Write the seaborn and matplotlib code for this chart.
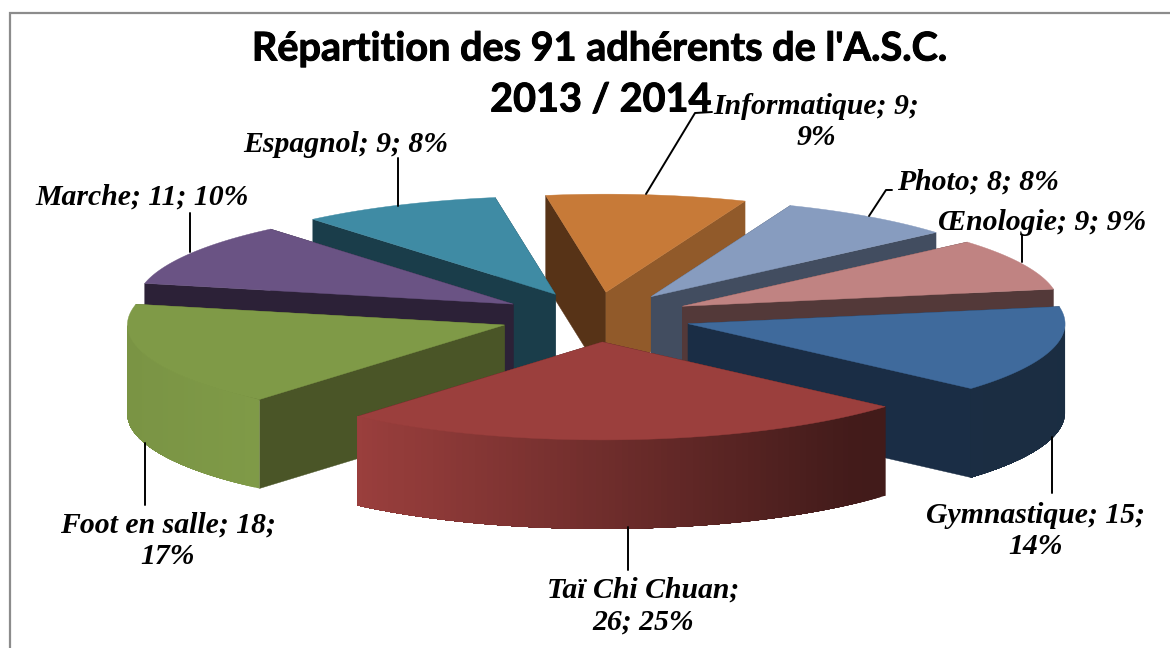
import matplotlib
matplotlib.use("Agg")
import matplotlib.patheffects as pe
import matplotlib.pyplot as plt
import numpy as np
import seaborn as sns

# Data (clockwise, starting with Informatique)
categories = ["Informatique", "Photo", "Œnologie", "Gymnastique",
              "Taï Chi Chuan", "Foot en salle", "Marche", "Espagnol"]
values = [9, 8, 9, 15, 26, 18, 11, 9]
labels = ["Informatique; 9;\n9%", "Photo; 8; 8%", "Œnologie; 9; 9%", "Gymnastique; 15;\n14%",
          "Taï Chi Chuan;\n26; 25%", "Foot en salle; 18;\n17%", "Marche; 11; 10%", "Espagnol; 9; 8%"]
title_lines = ["Répartition des 91 adhérents de l'A.S.C.", "2013 / 2014"]

top_colors = ["#C77A38", "#879CBF", "#C08382", "#3F6A9C", "#9B3F3D", "#7F9A47", "#6A5384", "#3F8BA4"]
start_colors = ["#573317", "#424D60", "#533939", "#1A2D45", "#421A18", "#4A5527", "#2C2137", "#1A3D4A"]
end_colors = ["#915A2A", "#424D60", "#533939", "#1A2D45", "#421A18", "#4A5527", "#2C2137", "#1A3D4A"]

# Layout of the pie in pixels
cx, cy = 595.5, 317
rx, ry = 377, 98
depth = 89
explode = 0.255
start_angle = -9.2
draw_order = [0, 1, 2, 3, 7, 6, 5, 4]

label_pos = [(816, 122), (978, 182), (1042, 223), (1036, 531),
             (643, 606), (168, 541), (142, 197), (346, 145)]
title_pos = [(600, 49), (601, 100)]
leaders = [[(712, 112), (695, 113), (646, 194)],
           [(892, 190), (886, 190), (869, 216)],
           [(1022, 235), (1022, 262)],
           [(1052, 437), (1052, 493)],
           [(628, 527), (628, 570)],
           [(145, 443), (145, 505)],
           [(190, 213), (190, 252)],
           [(398, 158), (398, 206)]]

sns.set_theme(style="white")
plt.rcParams["font.family"] = "Liberation Serif"

fig, ax = plt.subplots(figsize=(11.7, 6.48), dpi=100)
ax.set_position([0, 0, 1, 1])
ax.set_xlim(0, 1170)
ax.set_ylim(648, 0)
ax.axis("off")

# Grey chart frame, only left and top are in the crop
ax.plot([10, 10, 1170], [648, 13, 13], color="#8C8C8C", lw=1.6, solid_joinstyle="miter")

sweeps = np.array(values) / sum(values) * 360
starts = start_angle + np.concatenate([[0], np.cumsum(sweeps)[:-1]])


def point(tx, ty, deg):
    rad = np.radians(deg)
    return tx + rx * np.sin(rad), ty - ry * np.cos(rad)


def shade(hex_color, f):
    return tuple(c * f for c in matplotlib.colors.to_rgb(hex_color))


for i in draw_order:
    a0, a1 = starts[i], starts[i] + sweeps[i]
    mid = np.radians((a0 + a1) / 2)
    tx = cx + explode * rx * np.sin(mid)
    ty = cy - explode * ry * np.cos(mid)

    # cut faces, the one with the lower outer corner goes last
    faces = [(point(tx, ty, a0), start_colors[i]), (point(tx, ty, a1), end_colors[i])]
    faces.sort(key=lambda f: f[0][1])
    for (px, py), col in faces:
        ax.fill([tx, px, px, tx], [ty, py, py + depth, ty + depth], color=col, lw=0.3, zorder=2)

    # curved wall, only the part facing the viewer; each strip runs under the next one
    lo, hi = max(a0, 90), min(a1, 270)
    if hi > lo:
        steps = np.linspace(lo, hi, int(hi - lo) + 2)
        for k in range(len(steps) - 1):
            arc = np.linspace(steps[k], hi, 60)
            xs, ys = point(tx, ty, arc)
            side = np.sin(np.radians((steps[k] + steps[k + 1]) / 2))
            f = np.interp(side, [-1, -0.66, 0, 0.66, 1], [0.96, 1.0, 0.72, 0.43, 0.42])
            ax.fill(np.r_[xs, xs[::-1]], np.r_[ys, ys[::-1] + depth],
                    color=shade(top_colors[i], f), lw=0, zorder=2)

    # top of the slice
    arc = np.linspace(a0, a1, 80)
    xs, ys = point(tx, ty, arc)
    ax.fill(np.r_[tx, xs], np.r_[ty, ys], color=top_colors[i], lw=0.3, zorder=2)

for pts in leaders:
    ax.plot(*zip(*pts), color="black", lw=1.4, zorder=3)

for text, (x, y) in zip(labels, label_pos):
    ax.text(x, y, text, ha="center", va="center", fontsize=21.4, fontweight="bold",
            fontstyle="italic", linespacing=1.2, color="black", zorder=4)

for text, (x, y) in zip(title_lines, title_pos):
    ax.text(x, y, text, ha="center", va="center", fontsize=28.5, fontweight="bold",
            family="Lato", color="black", zorder=4,
            path_effects=[pe.withStroke(linewidth=0.7, foreground="black")])

fig.savefig("out.png", dpi=100)
